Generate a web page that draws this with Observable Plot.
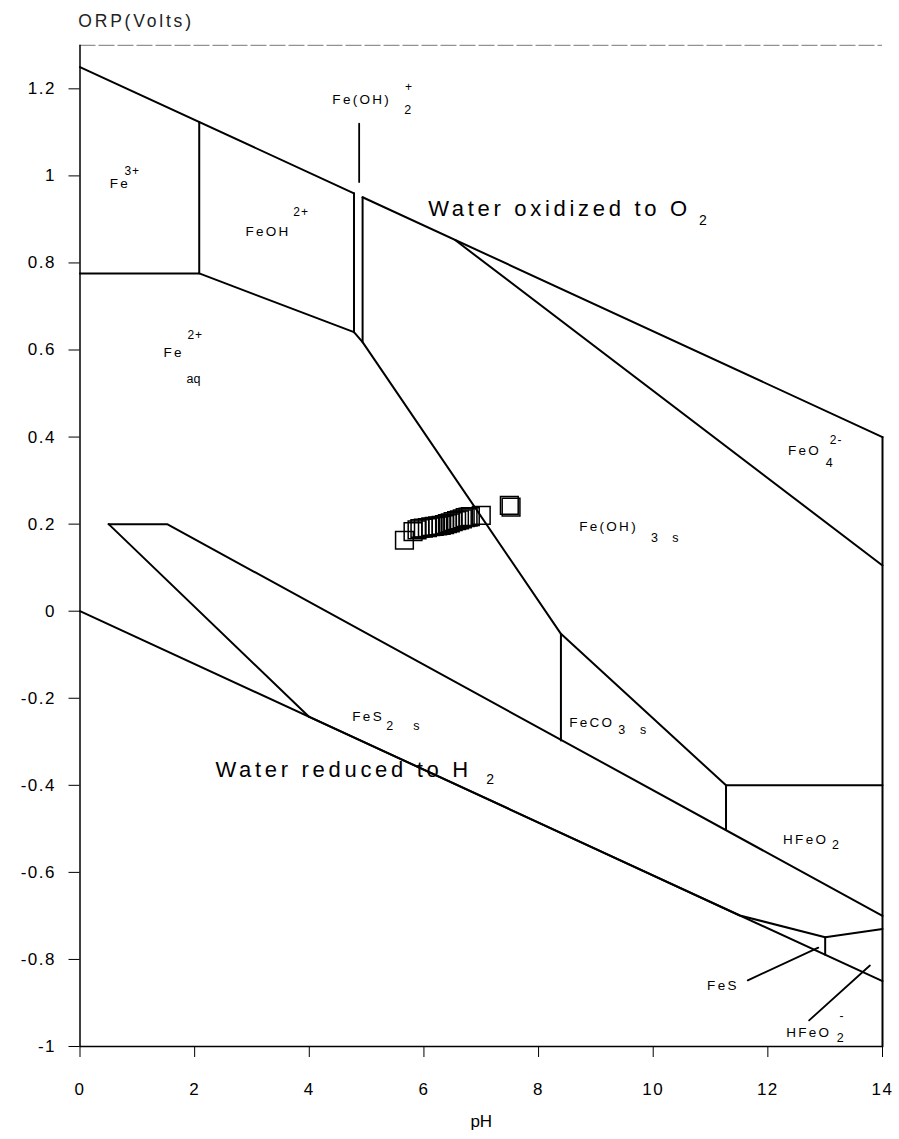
<!DOCTYPE html>
<html><head><meta charset="utf-8">
<script src="https://cdn.jsdelivr.net/npm/d3@7"></script>
<script src="https://cdn.jsdelivr.net/npm/@observablehq/plot@0.6"></script>
<style>
body{margin:0;background:#fff;}
#chart svg{font-family:"Liberation Sans",Arial,Helvetica,sans-serif;background:#fff;}
</style></head><body><div id="chart"></div>
<script>
// ---- axes ----
const xTicks = [0, 2, 4, 6, 8, 10, 12, 14];
const yTicks = [1.2, 1, 0.8, 0.6, 0.4, 0.2, 0, -0.2, -0.4, -0.6, -0.8, -1];
const yTickLabels = ["1.2", "1", "0.8", "0.6", "0.4", "0.2", "0", "-0.2", "-0.4", "-0.6", "-0.8", "-1"];

// ---- stability field boundaries [pH, ORP] ----
const o2LineA = [[0, 1.25], [4.78, 0.960]];
const o2LineB = [[4.93, 0.951], [14, 0.40]];
const h2Line = [[0, 0], [14, -0.85]];
const fe3Edge = [[0, 0.776], [2.08, 0.776], [2.08, 1.124]];
const fe2Upper = [[2.08, 0.776], [4.78, 0.641], [4.93, 0.618], [8.39, -0.052], [11.27, -0.40], [14, -0.40]];
const feohEdge = [[4.78, 0.960], [4.78, 0.641]];
const feoh2Edge = [[4.93, 0.951], [4.93, 0.618]];
const ferrateEdge = [[6.55, 0.852], [14, 0.105]];
const rightEdge = [[14, 0.40], [14, -1]];
const fecoEdge = [[8.39, -0.052], [8.39, -0.297]];
const hfeoEdge = [[11.27, -0.40], [11.27, -0.502]];
const pyriteUpper = [[0.5, 0.2], [1.52, 0.2], [14, -0.70]];
const pyriteLeft = [[0.5, 0.2], [3.99, -0.242]];
const pyriteLower = [[3.99, -0.242], [11.51, -0.699], [13.0, -0.749], [14, -0.730]];
const fesEdge = [[13.0, -0.749], [13.0, -0.789]];
const pointerFeOH2 = [[4.87, 1.12], [4.87, 0.986]];
const pointerFeS = [[11.65, -0.848], [12.88, -0.773]];
const pointerHFeO2 = [[12.72, -0.940], [13.78, -0.814]];

// ---- measured samples ----
const samplePH  = [5.66, 5.81, 5.88, 5.93, 5.99, 6.06, 6.12, 6.18, 6.24, 6.30, 6.36, 6.41, 6.46, 6.51, 6.57, 6.62, 6.67, 6.72, 6.77, 6.81, 7.00, 7.49, 7.52];
const sampleORP = [0.163, 0.183, 0.187, 0.190, 0.191, 0.192, 0.194, 0.195, 0.196, 0.197, 0.199, 0.201, 0.203, 0.206, 0.208, 0.210, 0.212, 0.215, 0.216, 0.217, 0.220, 0.243, 0.239];

// ---- labels ----
const speciesLabels = [
  {pH: 0.52, orp: 0.973, text: "Fe"},
  {pH: 2.886, orp: 0.863, text: "FeOH"},
  {pH: 1.456, orp: 0.585, text: "Fe"},
  {pH: 4.402, orp: 1.166, text: "Fe(OH)"},
  {pH: 12.35, orp: 0.358, text: "FeO"},
  {pH: 8.708, orp: 0.185, text: "Fe(OH)"},
  {pH: 4.75, orp: -0.253, text: "FeS"},
  {pH: 8.534, orp: -0.265, text: "FeCO"},
  {pH: 12.265, orp: -0.534, text: "HFeO"},
  {pH: 10.94, orp: -0.871, text: "FeS"},
  {pH: 12.32, orp: -0.979, text: "HFeO"}
];
const subscripts = [
  {pH: 1.857, orp: 0.525, text: "aq"},
  {pH: 5.657, orp: 1.143, text: "2"},
  {pH: 13.01, orp: 0.332, text: "4"},
  {pH: 9.963, orp: 0.160, text: "3"},
  {pH: 10.33, orp: 0.160, text: "s"},
  {pH: 5.343, orp: -0.272, text: "2"},
  {pH: 5.814, orp: -0.272, text: "s"},
  {pH: 9.39, orp: -0.283, text: "3"},
  {pH: 9.77, orp: -0.283, text: "s"},
  {pH: 13.12, orp: -0.547, text: "2"},
  {pH: 13.20, orp: -0.990, text: "2"}
];
const superscripts = [
  {pH: 0.775, orp: 1.001, text: "3+"},
  {pH: 3.722, orp: 0.907, text: "2+"},
  {pH: 1.874, orp: 0.626, text: "2+"},
  {pH: 5.67, orp: 1.196, text: "+"},
  {pH: 13.08, orp: 0.385, text: "2-"},
  {pH: 13.25, orp: -0.940, text: "-"}
];
const waterLabels = [
  {pH: 6.074, orp: 0.907, text: "Water oxidized to O"},
  {pH: 2.362, orp: -0.382, text: "Water reduced to H"}
];
const waterSubs = [
  {pH: 10.80, orp: 0.888, text: "2"},
  {pH: 7.087, orp: -0.398, text: "2"}
];
const axisTitles = [
  {pH: -0.03, orp: 1.341, text: "ORP(Volts)"}
];
const xTitle = [
  {pH: 7.0, orp: -1.186, text: "pH"}
];

// ---- build tables ----
const segments = [o2LineA, o2LineB, h2Line, fe3Edge, fe2Upper, feohEdge, feoh2Edge, ferrateEdge,
  rightEdge, fecoEdge, hfeoEdge, pyriteUpper, pyriteLeft, pyriteLower, fesEdge];
const pointers = [pointerFeOH2, pointerFeS, pointerHFeO2];
const toRows = (list) => list.flatMap((seg, i) => seg.map(([pH, orp]) => ({pH, orp, id: i})));
const samples = samplePH.map((pH, i) => ({pH, orp: sampleORP[i]}));

const txt = (data, size, extra = {}) => Plot.text(data, {
  x: "pH", y: "orp", text: "text", fontSize: size, textAnchor: "start",
  lineAnchor: "bottom", fill: "black", ...extra
});

const chart = Plot.plot({
  width: 899,
  height: 1139,
  marginLeft: 79.5,
  marginRight: 17,
  marginTop: 44.8,
  marginBottom: 93,
  style: {fontSize: "17px", fontFamily: "'Liberation Sans', Arial, sans-serif", color: "black"},
  x: {domain: [0, 14]},
  y: {domain: [-1, 1.3]},
  marks: [
    Plot.ruleY([1.3], {x1: 0, x2: 14, stroke: "#777", strokeWidth: 1, strokeDasharray: "16,3"}),
    Plot.ruleX([0], {y1: -1, y2: 1.3, stroke: "black", strokeWidth: 1.5}),
    Plot.ruleY([-1], {x1: 0, x2: 14, stroke: "black", strokeWidth: 1.5}),
    Plot.axisX(xTicks, {tickSize: 11, tickPadding: 25, label: null, tickFormat: d => String(d)}),
    Plot.axisY(yTicks, {tickSize: 11, tickPadding: 13, label: null, tickFormat: d => yTickLabels[yTicks.indexOf(d)]}),
    Plot.line(toRows(segments), {x: "pH", y: "orp", z: "id", stroke: "black", strokeWidth: 2, curve: "linear"}),
    Plot.line(toRows(pointers), {x: "pH", y: "orp", z: "id", stroke: "black", strokeWidth: 1.8}),
    Plot.dot(samples, {x: "pH", y: "orp", symbol: "square", r: 10, stroke: "black", strokeWidth: 1.5, fill: "none"}),
    txt(speciesLabels, 13.5),
    txt(subscripts, 12.5),
    txt(superscripts, 12),
    txt(waterLabels, 22),
    txt(waterSubs, 14),
    txt(axisTitles, 17.5, {fill: "#222"}),
    txt(xTitle, 17, {textAnchor: "middle"})
  ]
});
document.getElementById("chart").appendChild(chart);

// letter spacing to mimic plotter lettering (groups identified by their font-size)
const spacingBySize = {"13.5": 2.3, "12": 1, "22": 3.7, "17.5": 2.8};
chart.querySelectorAll("g[font-size]").forEach(g => {
  const s = spacingBySize[g.getAttribute("font-size")];
  if (s != null) g.querySelectorAll("text").forEach(t => t.style.letterSpacing = s + "px");
});
chart.querySelectorAll('g[aria-label="x-axis tick label"] text, g[aria-label="y-axis tick label"] text')
  .forEach(t => t.style.letterSpacing = "1.5px");
</script></body></html>
